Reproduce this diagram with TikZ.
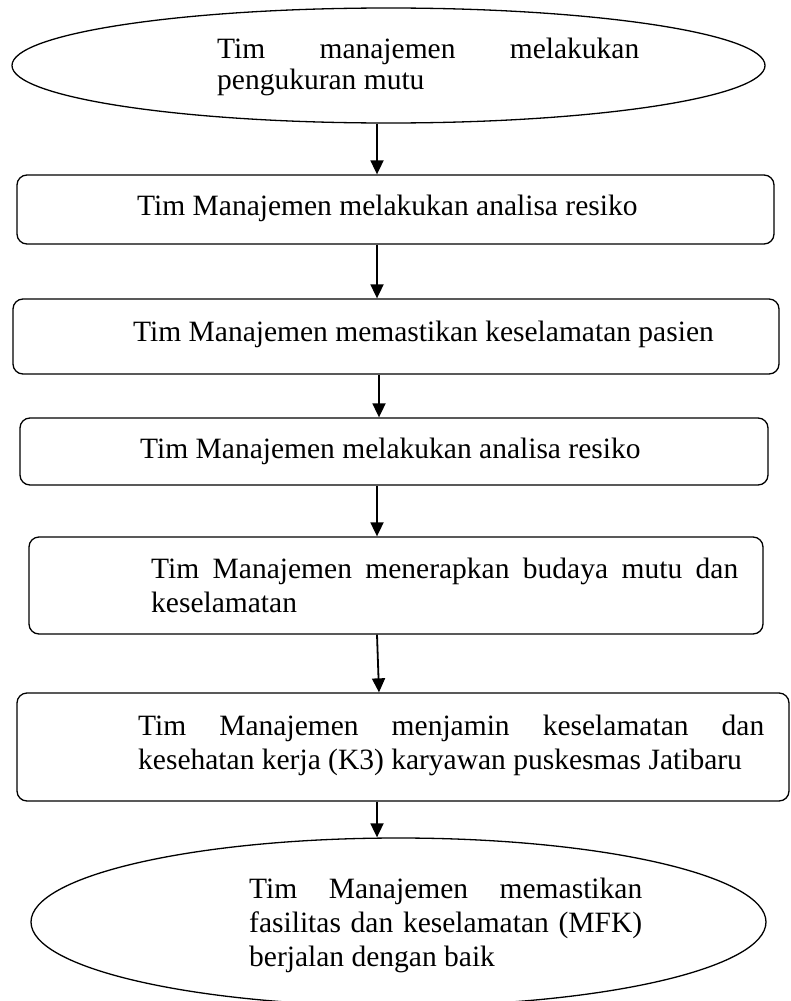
\documentclass[tikz,border=0pt]{standalone}
\usepackage{fontspec}
\setmainfont{Liberation Serif}
\usetikzlibrary{shapes.geometric,arrows.meta}
\newcommand\justline[2]{\hbox to #1pt{#2}}
\tikzset{
  shapeline/.style={draw=black, line width=1.3pt},
  oval/.style={shapeline, ellipse, inner sep=0pt},
  stepbox/.style={shapeline, rectangle, rounded corners=10pt, inner sep=0pt},
  txt/.style={anchor=base west, inner sep=0pt, font=\fontsize{29.5}{34}\selectfont},
  arr/.style={line width=1.8pt, -{Triangle[length=14pt,width=13pt]}}
}
\begin{document}
\begin{tikzpicture}[x=1pt,y=-1pt]
\useasboundingbox (0,0) rectangle (790,1001);
\clip (0,0) rectangle (790,1001);
\fill[white] (0,0) rectangle (790,1001);

% shapes
\node[oval, minimum width=753pt, minimum height=115pt] (e1) at (388.5,65.5) {};
\node[stepbox, minimum width=757pt, minimum height=69pt] (b1) at (395.5,209.5) {};
\node[stepbox, minimum width=766pt, minimum height=75pt] (b2) at (396,336.5) {};
\node[stepbox, minimum width=748pt, minimum height=67pt] (b3) at (394,451.5) {};
\node[stepbox, minimum width=734pt, minimum height=97pt] (b4) at (396,585.5) {};
\node[stepbox, minimum width=772pt, minimum height=108pt] (b5) at (403,747) {};
\node[oval, minimum width=735pt, minimum height=168pt] (e2) at (398.5,922) {};

% texts
\node[txt] (t1a) at (217,58) {\justline{422}{Tim \hfill manajemen \hfill melakukan}};
\node[txt] (t1b) at (217,89) {pengukuran mutu};
\node[txt] (t2) at (137,215) {Tim Manajemen melakukan analisa resiko};
\node[txt] (t3) at (133,341) {Tim Manajemen memastikan keselamatan pasien};
\node[txt] (t4) at (140,458) {Tim Manajemen melakukan analisa resiko};
\node[txt] (t5a) at (151,578) {\justline{587}{Tim \hfill Manajemen \hfill menerapkan \hfill budaya \hfill mutu \hfill dan}};
\node[txt] (t5b) at (151,612) {keselamatan};
\node[txt] (t6a) at (138,735) {\justline{626}{Tim \hfill Manajemen \hfill menjamin \hfill keselamatan \hfill dan}};
\node[txt] (t6b) at (138,769) {kesehatan kerja (K3) karyawan puskesmas Jatibaru};
\node[txt] (t7a) at (249,898) {\justline{393}{Tim \hfill Manajemen \hfill memastikan}};
\node[txt] (t7b) at (249,932) {\justline{393}{fasilitas \hfill dan \hfill keselamatan \hfill (MFK)}};
\node[txt] (t7c) at (249,966) {berjalan dengan baik};

% connectors
\coordinate (ax) at (377,0);
\coordinate (bx) at (379,0);
\draw[arr] (e1.south -| ax) -- (b1.north -| ax);
\draw[arr] (b1.south -| ax) -- (b2.north -| ax);
\draw[arr] (b2.south -| bx) -- (b3.north -| bx);
\draw[arr] (b3.south -| ax) -- (b4.north -| ax);
\draw[arr] (b4.south -| ax) -- (b5.north -| bx);
\draw[arr] (b5.south -| ax) -- (e2.north -| ax);
\end{tikzpicture}
\end{document}
